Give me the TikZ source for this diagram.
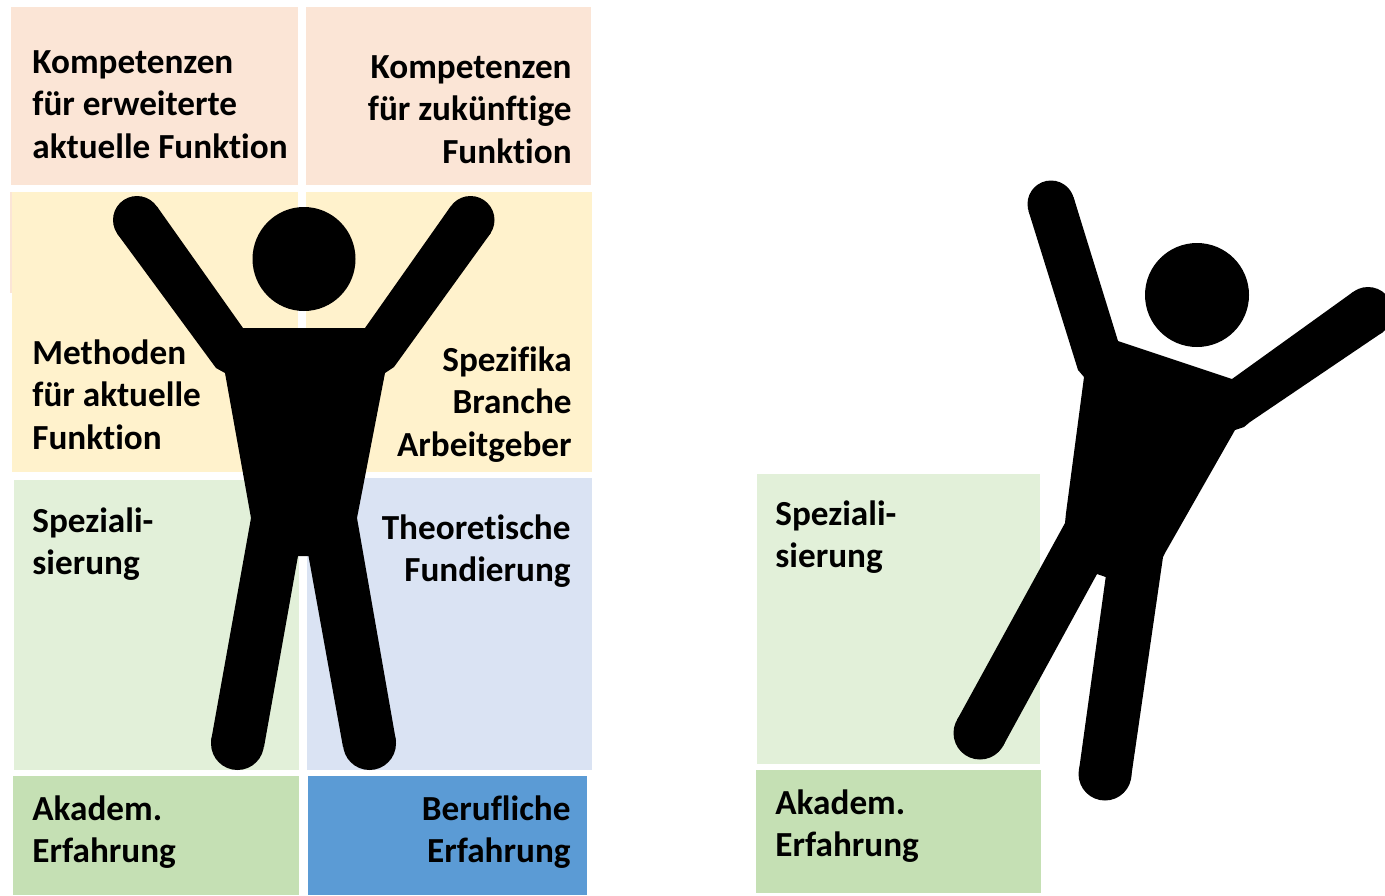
\documentclass[tikz,border=0pt]{standalone}
\usepackage{fontspec}
\setmainfont{Carlito}[Ligatures=NoCommon]
\usepackage{xcolor}
\usepackage{tikz}
\definecolor{peach}{HTML}{FBE5D6}
\definecolor{cream}{HTML}{FFF2CC}
\definecolor{palegreen}{HTML}{E2F0D9}
\definecolor{paleblue}{HTML}{DAE3F3}
\definecolor{midgreen}{HTML}{C5E0B4}
\definecolor{midblue}{HTML}{5B9BD5}
\tikzset{
  lefttext/.style={anchor=north west,inner sep=0pt,align=left,font=\fontsize{17.6}{21.25}\selectfont\bfseries},
  righttext/.style={anchor=north east,inner sep=0pt,align=right,font=\fontsize{17.6}{21.25}\selectfont\bfseries}
}

\begin{document}
\begin{tikzpicture}[x=0.5pt,y=-0.5pt]
        \useasboundingbox (0,0) rectangle (1385,895);
        \clip (0,0) rectangle (1385,895);
        % left picture, boxes
        \fill[peach] (11,7) rectangle (298,185);
        \fill[peach] (306,7) rectangle (591,185);
        \fill[peach] (10,192) rectangle (14,293);
        \fill[cream] (12,192) rectangle (298,472);
        \fill[cream] (306,192) rectangle (592,472);
        \fill[palegreen] (14,480) rectangle (299,770);
        \fill[paleblue] (307,478) rectangle (592,770);
        \fill[midgreen] (13,776) rectangle (299,895);
        \fill[midblue] (308,776) rectangle (587,895);
        % right picture, boxes
        \fill[palegreen] (757,474) rectangle (1040,764);
        \fill[midgreen] (756,770) rectangle (1041,893);
        % standing figure
        \begin{scope}[every path/.style={fill=black}]
          \path (304,259) ellipse [x radius=51.5,y radius=52];
          \path (137,220) circle [radius=24];
          \path (470.5,220) circle [radius=24];
          \path (237.5,743.5) circle [radius=26.5];
          \path (369.5,743.5) circle [radius=26.5];
          \path (243,328) -- (157,206.5) -- (117,233.4) -- (216,368) -- (225,373)
            -- (251,518) -- (211,741) -- (264,747) -- (298,556) -- (308.5,556)
            -- (343,747) -- (396,741) -- (357,518) -- (385,373) -- (394,367)
            -- (490.5,233.4) -- (450.5,206.6) -- (365,328) -- cycle;
        \end{scope}
        % jumping figure
        \begin{scope}[every path/.style={fill=black}]
          \path (1197,295) circle [radius=52];
          \path (1051,204) circle [radius=23.5];
          \path (1368,312) circle [radius=25];
          \path (980,733) circle [radius=26.5];
          \path (1105,774) circle [radius=26.5];
          \path (1118,341) -- (1073.5,197) -- (1028.5,211) -- (1078,370) -- (1084,377)
            -- (1066,513) -- (1065,523) -- (957,720) -- (1003,746) -- (1097,574)
            -- (1105.7,577) -- (1079,770) -- (1131,778) -- (1163,557) -- (1165,553)
            -- (1235,430) -- (1244,427) -- (1250,422) -- (1383,332) -- (1353,292)
            -- (1232,379) -- cycle;
        \end{scope}
        % labels
        \node[lefttext] (kompaktuell) at (32,50) {Kompetenzen\\für erweiterte\\aktuelle Funktion};
        \node[righttext] (kompzukunft) at (572,55) {Kompetenzen\\für zukünftige\\Funktion};
        \node[lefttext] (methoden) at (32,339) {Methoden\\für aktuelle\\Funktion};
        \node[righttext] (spezifika) at (572,346) {Spezifika\\Branche\\Arbeitgeber};
        \node[lefttext] (spezial) at (32,507) {Speziali-\\sierung};
        \node[righttext] (theorie) at (571,514) {Theoretische\\Fundierung};
        \node[lefttext] (akadem) at (32,795) {Akadem.\\Erfahrung};
        \node[righttext] (beruf) at (571,795) {Berufliche\\Erfahrung};
        \node[lefttext] (spezialb) at (775,500) {Speziali-\\sierung};
        \node[lefttext] (akademb) at (775,789) {Akadem.\\Erfahrung};
      \end{tikzpicture}
\end{document}
